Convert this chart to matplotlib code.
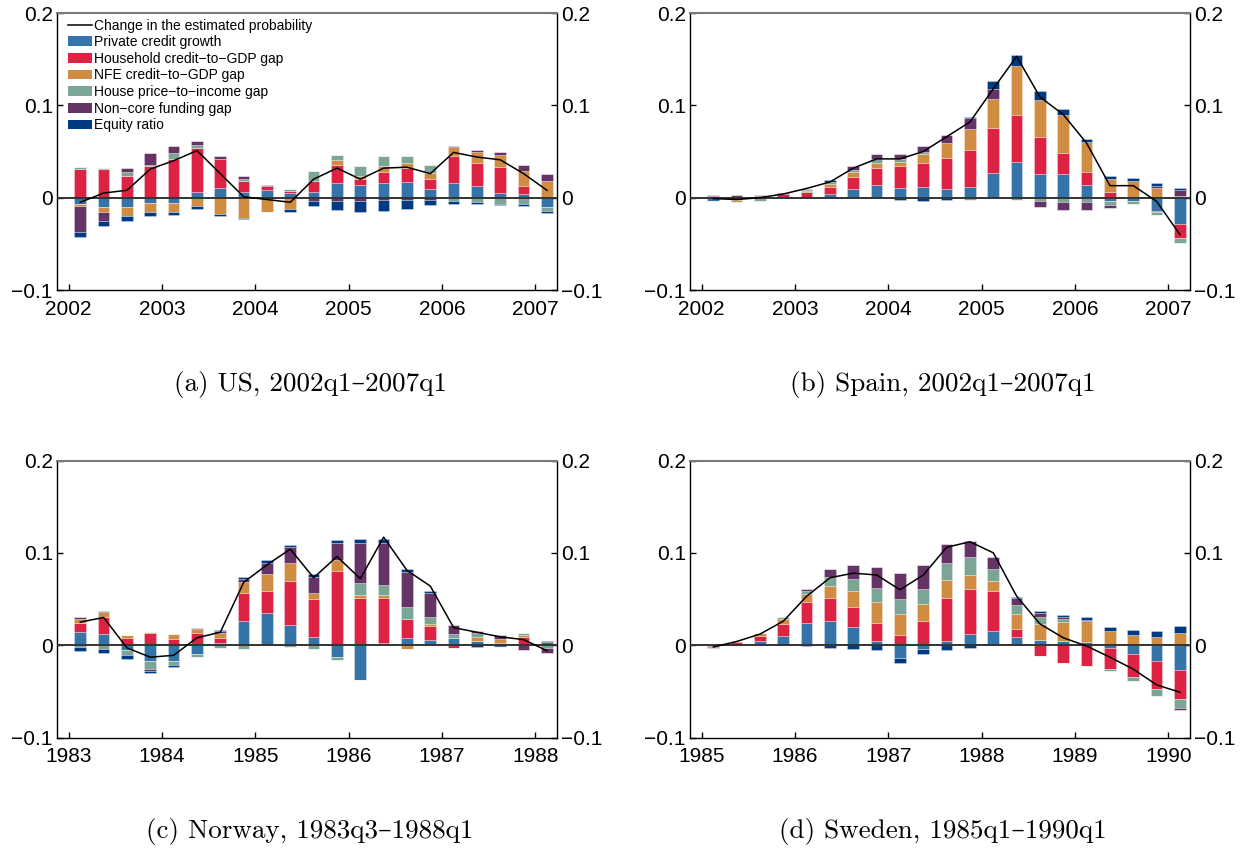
import numpy as np
import matplotlib
matplotlib.use("Agg")
import matplotlib.pyplot as plt
from matplotlib.patches import Patch
from matplotlib.lines import Line2D

plt.rcParams["font.family"] = ["Liberation Sans", "DejaVu Sans"]

SERIES = ["Private credit growth", "Household credit\u2212to\u2212GDP gap",
          "NFE credit\u2212to\u2212GDP gap", "House price\u2212to\u2212income gap",
          "Non\u2212core funding gap", "Equity ratio"]
COLORS = ["#3574A8", "#DE2244", "#D08C40", "#7BA696", "#663366", "#003A80"]
LINE_LABEL = "Change in the estimated probability"

# ---- US, 2002q1-2007q1 (signed contributions per quarter) ----
us_years = ["2002", "2003", "2004", "2005", "2006", "2007"]
us_credit = [-0.007, -0.010, -0.010, -0.006, -0.006, 0.006, 0.011, 0.006, 0.008, 0.005, 0.006,
             0.016, 0.014, 0.016, 0.017, 0.009, 0.016, 0.013, 0.005, 0.004, -0.010]
us_hh = [0.031, 0.031, 0.023, 0.034, 0.042, 0.048, 0.031, 0.012, 0.005, 0.002, 0.012,
         0.019, 0.006, 0.012, 0.015, 0.011, 0.029, 0.025, 0.028, 0.009, 0.000]
us_nfe = [-0.002, -0.005, -0.010, -0.009, -0.009, -0.009, -0.018, -0.022, -0.015, -0.012, 0.000,
          0.006, 0.004, 0.006, 0.006, 0.007, 0.010, 0.011, 0.013, 0.016, 0.018]
us_house = [0.002, 0.001, 0.005, 0.001, 0.006, 0.003, 0.000, 0.002, 0.000, 0.002, 0.011,
            0.005, 0.010, 0.011, 0.007, 0.008, -0.004, -0.005, -0.007, -0.007, -0.004]
us_noncore = [-0.028, -0.010, 0.004, 0.013, 0.008, 0.004, 0.003, 0.003, 0.001, 0.000, -0.004,
              -0.004, -0.004, -0.003, -0.003, -0.003, 0.001, 0.003, 0.004, 0.006, 0.008]
us_equity = [-0.006, -0.006, -0.005, -0.005, -0.004, -0.003, -0.002, -0.001, -0.001, -0.004, -0.005,
             -0.009, -0.012, -0.011, -0.009, -0.005, -0.003, -0.002, -0.001, -0.002, -0.003]
us_prob = [-0.005, 0.005, 0.008, 0.031, 0.040, 0.051, 0.026, 0.001, -0.002, -0.005, 0.020,
           0.032, 0.020, 0.032, 0.033, 0.026, 0.049, 0.044, 0.041, 0.026, 0.008]

# ---- Spain, 2002q1-2007q1 ----
es_years = ["2002", "2003", "2004", "2005", "2006", "2007"]
es_credit = [-0.004, -0.003, 0.000, 0.000, 0.000, 0.004, 0.009, 0.014, 0.011, 0.012, 0.009,
             0.012, 0.027, 0.039, 0.026, 0.026, 0.014, -0.004, -0.004, -0.014, -0.028]
es_hh = [0.002, 0.000, 0.002, 0.004, 0.006, 0.008, 0.013, 0.018, 0.023, 0.026, 0.034,
         0.040, 0.048, 0.050, 0.040, 0.022, 0.014, 0.006, 0.000, -0.002, -0.016]
es_nfe = [0.000, -0.002, 0.000, 0.000, 0.001, 0.003, 0.006, 0.006, 0.005, 0.009, 0.016,
          0.022, 0.032, 0.054, 0.040, 0.041, 0.032, 0.014, 0.018, 0.010, 0.002]
es_house = [0.000, 0.000, -0.004, 0.000, 0.001, 0.002, 0.002, 0.004, 0.003, 0.002, 0.000,
            -0.002, 0.000, -0.003, -0.004, -0.005, -0.005, -0.004, -0.003, -0.003, -0.005]
es_noncore = [0.001, 0.003, 0.001, 0.000, 0.001, 0.000, 0.004, 0.005, 0.005, 0.007, 0.009,
              0.012, 0.011, 0.000, -0.006, -0.008, -0.008, -0.003, 0.000, 0.003, 0.006]
es_equity = [0.000, 0.000, 0.000, 0.001, 0.000, 0.002, 0.000, 0.000, -0.002, -0.004, -0.002,
             0.001, 0.008, 0.011, 0.009, 0.007, 0.004, 0.004, 0.003, 0.003, 0.003]
es_prob = [-0.001, -0.002, 0.000, 0.004, 0.010, 0.017, 0.032, 0.042, 0.042, 0.050, 0.066,
           0.082, 0.118, 0.153, 0.109, 0.090, 0.059, 0.013, 0.013, -0.004, -0.040]

# ---- Norway, 1983q3-1988q1 ----
no_years = ["1983", "1984", "1985", "1986", "1987", "1988"]
no_credit = [0.014, 0.012, -0.005, -0.017, -0.017, -0.010, 0.002, 0.026, 0.035, 0.022, 0.009,
             -0.013, -0.038, 0.002, 0.008, 0.006, 0.008, 0.004, -0.002, 0.000, 0.000]
no_hh = [0.010, 0.018, 0.008, 0.013, 0.007, 0.013, 0.006, 0.030, 0.024, 0.048, 0.041,
         0.080, 0.051, 0.049, 0.020, 0.015, -0.003, 0.001, 0.002, 0.009, 0.003]
no_nfe = [0.004, 0.006, 0.003, 0.001, 0.005, 0.005, 0.005, 0.012, 0.018, 0.019, 0.006,
          0.012, 0.003, 0.003, -0.004, 0.002, 0.000, 0.004, 0.005, 0.002, 0.000]
no_house = [-0.002, -0.004, -0.006, -0.009, -0.005, -0.003, -0.003, -0.004, 0.000, -0.002, -0.004,
            -0.003, 0.013, 0.011, 0.013, 0.007, 0.004, 0.004, 0.000, 0.002, -0.003]
no_noncore = [0.003, 0.001, 0.000, -0.002, 0.000, 0.001, 0.002, 0.004, 0.012, 0.017, 0.018,
              0.019, 0.044, 0.046, 0.038, 0.026, 0.010, 0.002, 0.004, -0.005, -0.006]
no_equity = [-0.004, -0.004, -0.004, -0.002, -0.002, 0.000, 0.001, 0.002, 0.003, 0.002, 0.003,
             0.003, 0.004, 0.004, 0.003, 0.003, 0.000, -0.002, 0.000, 0.000, 0.001]
no_prob = [0.025, 0.030, -0.003, -0.013, -0.011, 0.008, 0.014, 0.068, 0.087, 0.104, 0.073,
           0.096, 0.072, 0.117, 0.081, 0.064, 0.019, 0.014, 0.009, 0.006, -0.006]

# ---- Sweden, 1985q1-1990q1 ----
se_years = ["1985", "1986", "1987", "1988", "1989", "1990"]
se_credit = [-0.001, -0.001, 0.004, 0.010, 0.024, 0.026, 0.020, 0.005, -0.014, -0.004, 0.005,
             0.012, 0.015, 0.009, 0.006, 0.004, 0.003, -0.003, -0.010, -0.017, -0.027]
se_hh = [-0.001, 0.003, 0.006, 0.013, 0.023, 0.025, 0.021, 0.019, 0.011, 0.026, 0.046,
         0.049, 0.044, 0.008, -0.012, -0.019, -0.023, -0.023, -0.025, -0.030, -0.031]
se_nfe = [0.000, 0.002, 0.003, 0.005, 0.008, 0.013, 0.018, 0.023, 0.023, 0.019, 0.020,
          0.015, 0.011, 0.017, 0.017, 0.021, 0.023, 0.015, 0.011, 0.009, 0.013]
se_house = [0.000, 0.000, 0.000, 0.002, 0.004, 0.010, 0.013, 0.015, 0.016, 0.016, 0.018,
            0.019, 0.012, 0.010, 0.007, 0.003, 0.000, -0.002, -0.004, -0.008, -0.010]
se_noncore = [-0.001, 0.000, 0.000, 0.000, 0.002, 0.008, 0.015, 0.023, 0.028, 0.026, 0.021,
              0.018, 0.013, 0.007, 0.005, 0.002, 0.001, 0.000, 0.000, 0.000, -0.002]
se_equity = [0.000, 0.000, 0.000, 0.000, -0.001, -0.003, -0.004, -0.005, -0.005, -0.006, -0.005,
             -0.003, 0.000, 0.001, 0.002, 0.003, 0.003, 0.005, 0.005, 0.006, 0.008]
se_prob = [-0.002, 0.004, 0.012, 0.026, 0.053, 0.073, 0.078, 0.076, 0.060, 0.076, 0.106,
           0.112, 0.100, 0.053, 0.023, 0.008, -0.001, -0.013, -0.026, -0.043, -0.051]

panels = [
    ("(a) US, 2002q1\u20132007q1", us_years,
     [us_credit, us_hh, us_nfe, us_house, us_noncore, us_equity], us_prob),
    ("(b) Spain, 2002q1\u20132007q1", es_years,
     [es_credit, es_hh, es_nfe, es_house, es_noncore, es_equity], es_prob),
    ("(c) Norway, 1983q3\u20131988q1", no_years,
     [no_credit, no_hh, no_nfe, no_house, no_noncore, no_equity], no_prob),
    ("(d) Sweden, 1985q1\u20131990q1", se_years,
     [se_credit, se_hh, se_nfe, se_house, se_noncore, se_equity], se_prob),
]

W, H = 1249, 848
fig = plt.figure(figsize=(W / 100, H / 100), dpi=100)

# axes boxes in pixels: left, top
boxes = [(57, 13), (690, 13), (57, 460.5), (690, 460.5)]
AW, AH = 500, 277

for (title, years, comps, prob), (bx, by) in zip(panels, boxes):
    ax = fig.add_axes([bx / W, 1 - (by + AH) / H, AW / W, AH / H])
    x = np.arange(len(prob))
    pos_base = np.zeros(len(x))
    neg_base = np.zeros(len(x))
    for vals, col in zip(comps, COLORS):
        v = np.array(vals)
        pv = np.where(v > 0, v, 0)
        nv = np.where(v < 0, v, 0)
        ax.bar(x, pv, 0.5, bottom=pos_base, color=col, linewidth=0.6,
               edgecolor=(1, 1, 1, 0.35))
        ax.bar(x, nv, 0.5, bottom=neg_base, color=col, linewidth=0.6,
               edgecolor=(1, 1, 1, 0.35))
        pos_base += pv
        neg_base += nv
    ax.axhline(0, color="#333333", linewidth=1.4, zorder=3)
    ax.plot(x, prob, color="black", linewidth=1.1, zorder=4)

    ax.set_xlim(-1, 20.43)
    ax.set_ylim(-0.1, 0.2)
    ax.set_yticks([-0.1, 0, 0.1, 0.2])
    ax.set_yticklabels(["\u22120.1", "0", "0.1", "0.2"])
    ax.set_xticks(np.arange(len(years)) * 4 - 0.5)
    ax.set_xticklabels(years)
    ax.tick_params(axis="both", direction="in", length=4, width=1, labelsize=15,
                   top=False, right=True, labelright=True, pad=3)
    ax.tick_params(axis="x", pad=7)
    for s in ["left", "right", "bottom"]:
        ax.spines[s].set_color("black")
        ax.spines[s].set_linewidth(1)
    ax.spines["top"].set_color("#7a7a7a")
    ax.spines["top"].set_linewidth(1.5)

    fig.text((bx + AW / 2 + 3) / W, 1 - (by + AH + 94) / H, title, ha="center", va="center",
             fontsize=19.5, family=["cmr10", "DejaVu Serif"])

    if title.startswith("(a)"):
        handles = [Line2D([0], [0], color="black", linewidth=1.1)]
        handles += [Patch(facecolor=c, edgecolor="none") for c in COLORS]
        ax.legend(handles, [LINE_LABEL] + SERIES, loc="upper left",
                  bbox_to_anchor=(0.02, 0.985), frameon=False, fontsize=10,
                  handlelength=1.7, handleheight=0.7, handletextpad=0.15,
                  labelspacing=0.19, borderaxespad=0, borderpad=0.1)

fig.savefig("out.png", dpi=100)
